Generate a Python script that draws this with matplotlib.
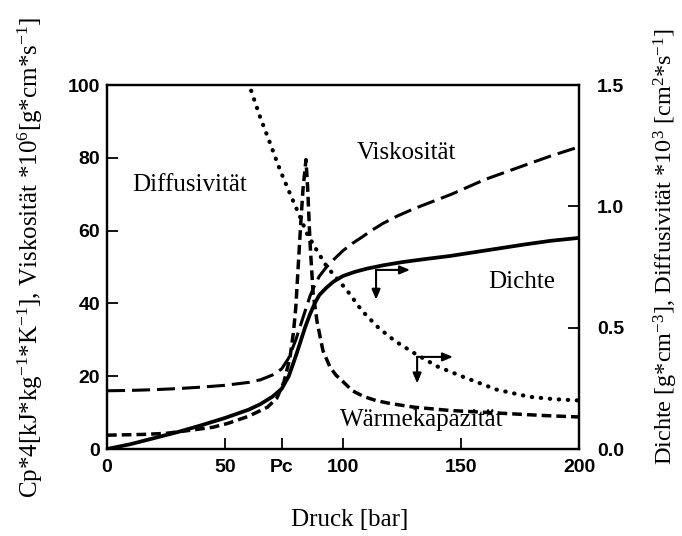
import matplotlib
matplotlib.use("Agg")
import matplotlib.pyplot as plt

# Druck [bar]
PC = 74

p_dichte = [0, 10, 20, 30, 40, 50, 60, 65, 70, 74, 77, 80, 82, 84, 86, 88, 90,
            93, 96, 100, 105, 110, 117, 125, 135, 145, 155, 165, 177, 188, 200]
dichte = [0.0, 0.02, 0.045, 0.07, 0.098, 0.128, 0.162, 0.185, 0.215, 0.248, 0.30,
          0.383, 0.443, 0.503, 0.555, 0.60, 0.635, 0.665, 0.69, 0.713, 0.73,
          0.743, 0.757, 0.77, 0.783, 0.795, 0.81, 0.825, 0.843, 0.858, 0.87]

p_visk = [0, 10, 20, 30, 40, 50, 60, 65, 70, 74, 77, 80, 83, 86, 88, 90, 93, 96,
          100, 104, 108, 112, 117, 123, 130, 138, 146, 160, 175, 188, 200]
visk = [16, 16.1, 16.3, 16.6, 17, 17.5, 18.3, 19, 20.3, 22, 25, 30, 36, 42, 45,
        47.5, 50, 52, 54.5, 56.5, 58.2, 60, 62, 64, 66, 68, 70, 74, 77.5, 80.5, 83]

p_cp = [0, 15, 25, 36, 45, 51, 60, 68, 72, 75, 77.5, 79, 80, 81, 82, 83, 84.3,
        85, 86, 87.3, 89, 91.5, 94.5, 97, 100, 104, 108.5, 114, 120, 130, 145,
        165, 185, 200]
cp = [3.8, 4, 4.3, 5.2, 6, 7, 9, 11.5, 14, 18.5, 25, 32, 39, 50, 61, 71, 79.5,
      72, 57, 43, 35, 27, 22.5, 20.3, 18.5, 16, 14.5, 13.3, 12.5, 11.5, 10.6,
      9.9, 9.2, 8.8]

p_diff = [57, 60.6, 64.8, 69.1, 73.3, 77.5, 81.8, 84.6, 88.8, 93.1, 101.6, 108,
          115, 122, 130, 140, 151, 165, 179, 190, 200]
diff = [1.62, 1.49, 1.37, 1.26, 1.15, 1.053, 0.957, 0.89, 0.82, 0.752, 0.655,
        0.57, 0.5, 0.445, 0.396, 0.34, 0.297, 0.245, 0.215, 0.205, 0.2]

x_ticks = [0, 50, PC, 100, 150, 200]
x_ticklabels = ["0", "50", "Pc", "100", "150", "200"]
y_ticks = [0, 20, 40, 60, 80, 100]
y2_ticks = [0.0, 0.5, 1.0, 1.5]

plt.rcParams["lines.scale_dashes"] = False
plt.rcParams["mathtext.fontset"] = "custom"
plt.rcParams["mathtext.rm"] = "Liberation Serif"
plt.rcParams["mathtext.it"] = "Liberation Serif"

serif = {"family": "Liberation Serif", "size": 18}
tickfont = {"family": "Liberation Sans", "size": 14, "weight": "bold"}

fig = plt.figure(figsize=(6.82, 5.36), dpi=100)
ax = fig.add_axes([0.1569, 0.1623, 0.6921, 0.6791])
ax2 = ax.twinx()

ax.plot(p_visk, visk, color="black", lw=2.2, dashes=(13, 5))
ax.plot(p_cp, cp, color="black", lw=2.5, dashes=(7, 3.6))
ax2.plot(p_dichte, dichte, color="black", lw=2.7, solid_capstyle="round")
ax2.plot(p_diff, diff, color="black", lw=3.0, dashes=(0.3, 6.2),
         dash_capstyle="round")

ax.set_xlim(0, 200)
ax.set_ylim(0, 100)
ax2.set_ylim(0, 1.5)

ax.set_xticks(x_ticks)
ax.set_xticklabels(x_ticklabels, fontdict=tickfont)
ax.set_yticks(y_ticks)
ax.set_yticklabels([str(v) for v in y_ticks], fontdict=tickfont)
ax2.set_yticks(y2_ticks)
ax2.set_yticklabels([f"{v:.1f}" for v in y2_ticks], fontdict=tickfont)

ax.tick_params(axis="x", direction="in", length=8, width=1.3, pad=7)
ax.tick_params(axis="y", direction="in", length=8, width=1.3, pad=5)
ax2.tick_params(axis="y", direction="in", length=8, width=1.3, pad=13)
for a in (ax, ax2):
    for s in a.spines.values():
        s.set_linewidth(1.6)

# Beschriftungen der Kurven
ax.text(10.6, 72.5, "Diffusivität", va="center", ha="left", fontdict=serif)
ax.text(106, 81.3, "Viskosität", va="center", ha="left", fontdict=serif)
ax.text(161.4, 45.9, "Dichte", va="center", ha="left", fontdict=serif)
ax.text(98.7, 8, "Wärmekapazität", va="center", ha="left", fontdict=serif)

# Pfeile: Achsenzuordnung
arrow = dict(arrowstyle="-|>,head_length=0.6,head_width=0.25", color="black",
             lw=1.5, shrinkA=0, shrinkB=0)
for cx, cy, ex, ey in [(114, 49.2, 128.4, 41), (131.4, 25.3, 146.6, 18)]:
    ax.annotate("", xy=(ex, cy), xytext=(cx, cy), arrowprops=arrow)
    ax.annotate("", xy=(cx, ey), xytext=(cx, cy), arrowprops=arrow)

fig.text(350 / 682, 1 - 520 / 536, "Druck [bar]", ha="center", va="center",
         fontdict=serif)
fig.text(30 / 682, 1 - 257 / 536,
         r"Cp*4[kJ*kg$^{-1}$*K$^{-1}$], Viskosität *10$^6$[g*cm*s$^{-1}$]",
         rotation=90, ha="center", va="center", fontdict=serif)
fig.text(666 / 682, 1 - 247 / 536,
         r"Dichte [g*cm$^{-3}$], Diffusivität *10$^3$ [cm$^2$*s$^{-1}$]",
         rotation=90, ha="center", va="center",
         fontdict={"family": "Liberation Serif", "size": 17.5})

fig.savefig("out.png", dpi=100)
